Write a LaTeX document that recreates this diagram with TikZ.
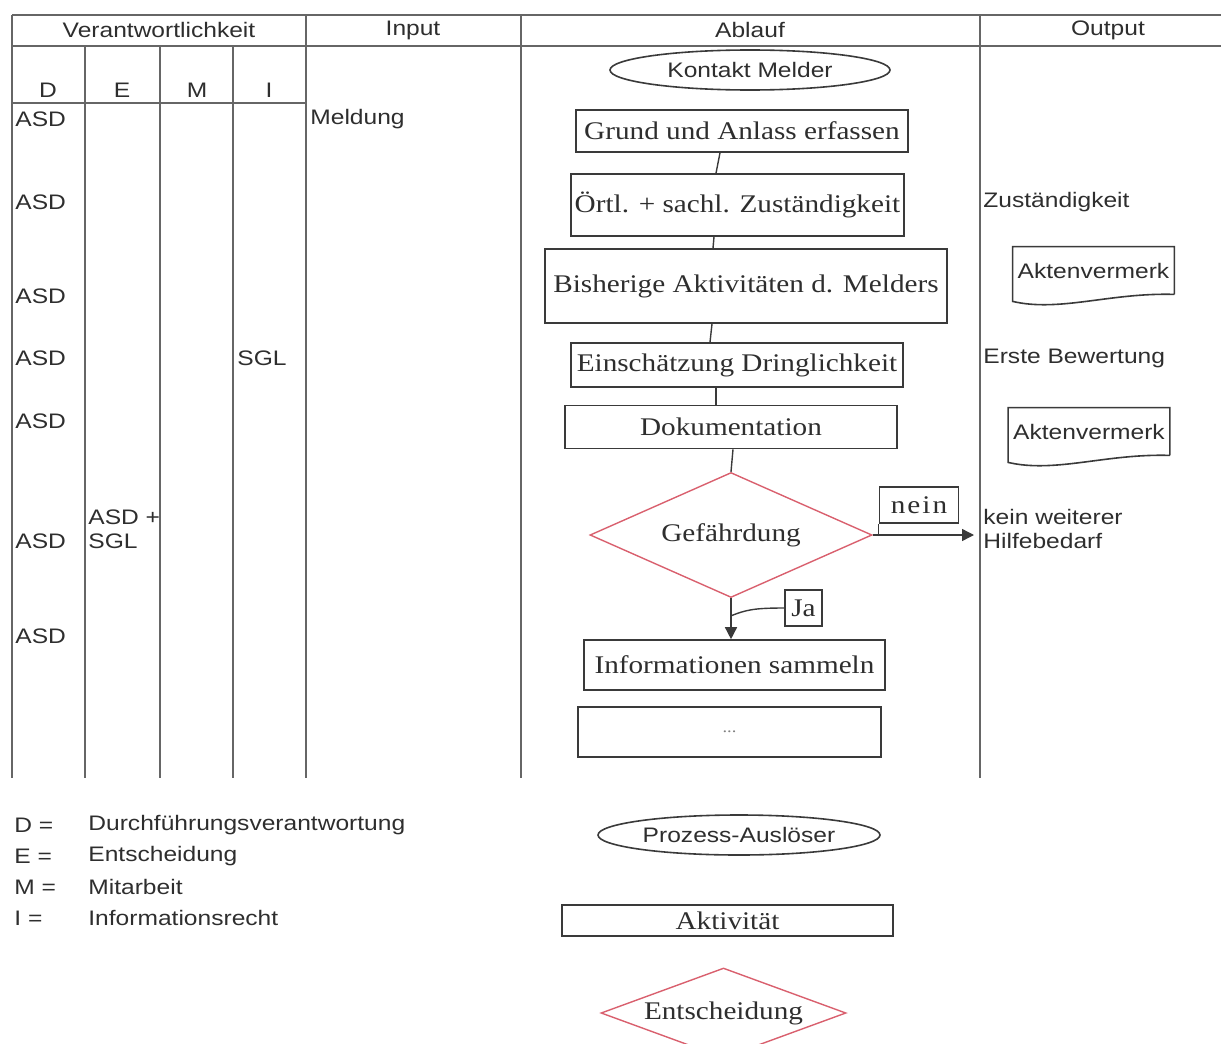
\documentclass[tikz,border=0pt]{standalone}
\usepackage{fontspec}
\setmainfont{Liberation Serif}[FakeStretch=1.15]
\setsansfont{Liberation Sans}[FakeStretch=1.17]
\usetikzlibrary{shapes.geometric,arrows.meta,calc}
\definecolor{txt}{HTML}{2E2E2E}
\definecolor{rulec}{HTML}{666666}
\definecolor{boxc}{HTML}{3A3A3A}
\definecolor{dred}{HTML}{D9606E}
\begin{document}
\begin{tikzpicture}[x=0.5pt,y=-0.5pt,
  sf/.style={font=\sffamily\fontsize{10.5}{12}\selectfont, text=txt, inner sep=0pt},
  lab/.style={sf, anchor=west, align=left},
  act/.style={draw=boxc, line width=0.8pt, rectangle, font=\fontsize{12.7}{14}\selectfont, text=txt, inner sep=0pt},
  trig/.style={draw=boxc, line width=0.8pt, ellipse, sf, inner sep=0pt},
  dec/.style={draw=dred, line width=0.7pt, diamond, font=\fontsize{12.7}{14}\selectfont, text=txt, inner sep=0pt},
  tbl/.style={draw=rulec, line width=1.1pt},
  con/.style={draw=boxc, line width=0.7pt},
  tip/.style={-{Triangle[length=6pt,width=6pt]}},
  docu/.style={sf, minimum width=80.5pt, minimum height=23.5pt},
  docline/.style={draw=boxc, line width=0.8pt},
]
\useasboundingbox (0,0) rectangle (1221,1044);

% ---------- table ----------
\draw[tbl] (12,15) -- (1221,15);
\draw[tbl] (12,46) -- (1221,46);
\draw[tbl] (12,103) -- (306,103);
\foreach \xx in {12,306,521,980} \draw[tbl] (\xx,15) -- (\xx,778);
\foreach \xx in {85,160,233} \draw[tbl] (\xx,46) -- (\xx,778);

\node[sf] (hV) at (159,30) {Verantwortlichkeit};
\node[sf] (hI) at (413,30) {Input};
\node[sf] (hA) at (750,30) {Ablauf};
\node[sf] (hO) at (1108,30) {Output};
\node[sf] (hD) at (48,90) {D};
\node[sf] (hE) at (122,90) {E};
\node[sf] (hM) at (197,90) {M};
\node[sf] (hII) at (269,90) {I};

% responsibility column
\node[lab] (d1) at (15,119) {ASD};
\node[lab] (d2) at (15,202) {ASD};
\node[lab] (d3) at (15,296) {ASD};
\node[lab] (d4) at (15,358) {ASD};
\node[lab] (d5) at (15,421) {ASD};
\node[lab] (d6) at (15,541) {ASD};
\node[lab] (d7) at (15,636) {ASD};
\node[lab] (e6) at (88,529) {ASD +\\SGL};
\node[lab] (i4) at (237,358) {SGL};
\node[lab] (in1) at (310,119) {Meldung};

% ---------- flow ----------
\node[trig, minimum width=140pt, minimum height=20pt] (km) at (750,70) {Kontakt Melder};
\node[act, minimum width=166pt, minimum height=21pt] (g1) at (742,131) {Grund und Anlass erfassen};
\node[act, minimum width=166.5pt, minimum height=31pt] (g2) at (737.5,205) {Örtl. + sachl. Zuständigkeit};
\node[act, minimum width=201pt, minimum height=37pt] (g3) at (746,286) {Bisherige Aktivitäten d. Melders};
\node[act, minimum width=166pt, minimum height=22pt] (g4) at (737,365) {Einschätzung Dringlichkeit};
\node[act, minimum width=166pt, minimum height=21.5pt] (g5) at (731,427) {Dokumentation};
\node[dec, aspect=2.25, minimum width=141pt, minimum height=62.5pt] (dia) at (731,535) {Gefährdung};
\node[act, minimum width=150.5pt, minimum height=25pt] (g6) at (734.5,665) {Informationen sammeln};
\node[act, minimum width=151.5pt, minimum height=25pt, font=\fontsize{8}{9}\selectfont, text=gray] (g7) at (729.5,732) {...};
\node[act, minimum width=39.5pt, minimum height=18pt, text depth=0pt, font=\fontsize{12.7}{14}\selectfont\addfontfeatures{LetterSpace=8}] (nein) at (919,505) {nein};
\node[act, minimum width=18.5pt, minimum height=18pt] (ja) at (803.5,608) {Ja};
\coordinate (nout) at (974,533);

\draw[con] ([xshift=-11pt]g1.south) -- ([xshift=-10.75pt]g2.north);
\draw[con] ([xshift=-11.75pt]g2.south) -- ([xshift=-16.5pt]g3.north);
\draw[con] ([xshift=-17pt]g3.south) -- ([xshift=-13.5pt]g4.north);
\draw[con] ([xshift=-10.5pt]g4.south) -- ([xshift=-7.5pt]g5.north);
\draw[con] ([xshift=1pt]g5.south) -- (dia.north);
\draw[con, tip] (dia.south) -- (dia.south |- g6.north);
\draw[con, tip] (dia.east) -- (dia.east -| nout);
\draw[con] (nein.south west) -- (nein.south west |- dia.east);
\coordinate (jp) at ($(dia.south)!0.43!(dia.south |- g6.north)$);
\draw[con] (ja.west) .. controls +(-30,0) and +(15,-6) .. (jp);

% ---------- output ----------
\node[lab] (o1) at (983,202) {Zuständigkeit};
\node[docu] (ak1) at (1093.5,270.5) {Aktenvermerk};
\draw[docline] (ak1.south east) -- (ak1.north east) -- (ak1.north west) -- ([yshift=-3.5pt]ak1.south west)
  .. controls +(47,11) and +(-64,-2) .. (ak1.south east);
\node[lab] (o2) at (983,358) {Erste Bewertung};
\node[docu] (ak2) at (1089,431.5) {Aktenvermerk};
\draw[docline] (ak2.south east) -- (ak2.north east) -- (ak2.north west) -- ([yshift=-3.5pt]ak2.south west)
  .. controls +(47,11) and +(-64,-2) .. (ak2.south east);
\node[lab] (o3) at (983,529) {kein weiterer\\Hilfebedarf};

% ---------- legend ----------
\node[lab] (lD) at (14,825) {D =};
\node[lab] (lE) at (14,856) {E =};
\node[lab] (lM) at (14,887) {M =};
\node[lab] (lI) at (14,918) {I =};
\node[lab] (tD) at (88,825) {Durchführungsverantwortung};
\node[lab] (tE) at (88,856) {Entscheidung};
\node[lab] (tM) at (88,887) {Mitarbeit};
\node[lab] (tI) at (88,918) {Informationsrecht};

\node[trig, minimum width=141pt, minimum height=20pt] (pa) at (739,835) {Prozess-Auslöser};
\node[act, minimum width=165.5pt, minimum height=15.5pt] (akt) at (727.5,920.5) {Aktivität};
\node[dec, aspect=2.7, minimum width=122.5pt, minimum height=45pt] (ent) at (723.5,1013) {Entscheidung};
\end{tikzpicture}
\end{document}
